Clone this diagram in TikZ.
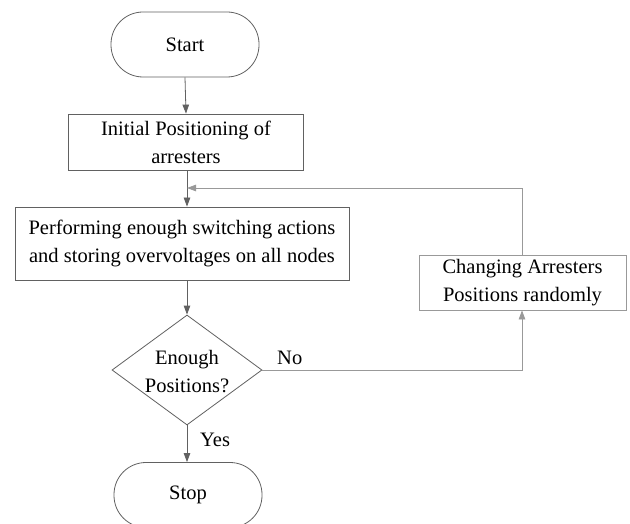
\documentclass[tikz,border=0pt]{standalone}
\usepackage{fontspec}
\setmainfont{Liberation Serif}
\usetikzlibrary{shapes.geometric,arrows.meta}
\begin{document}
\begin{tikzpicture}[x=1pt,y=-1pt,
  font=\fontsize{20.5}{28}\selectfont,
  line/.style={draw=black!62,line width=0.8pt},
  faint/.style={draw=black!40,line width=0.8pt},
  arr/.style={-{Triangle[length=9pt,width=6.5pt]}},
  terminal/.style={line,rectangle,rounded corners=32pt,minimum width=148pt,minimum height=65pt,inner sep=0pt},
  process/.style={line,rectangle,align=center,inner sep=0pt},
  decision/.style={line,diamond,minimum width=150pt,minimum height=110pt,inner sep=0pt},
  lbl/.style={inner sep=0pt,anchor=west}
]
\useasboundingbox (0,0) rectangle (630,524);
\fill[white] (0,0) rectangle (630,524);

% terminals, process boxes and decision
\node[terminal] (start) at (185,44.5) {Start};
\node[process,minimum width=235pt,minimum height=56pt] (init) at (186,142) {Initial Positioning of\\arresters};
\node[process,minimum width=334pt,minimum height=73pt] (sim) at (182,243.5) {Performing enough switching actions\\and storing overvoltages on all nodes};
\node[decision] (dec) at (187,370) {};
\node[align=center,inner sep=0pt] (dectext) at (187,372) {Enough\\Positions?};
\node[process,faint,minimum width=207pt,minimum height=55pt] (change) at (522.5,282.5) {Changing Arresters\\Positions randomly};
\node[terminal] (stop) at (188,495) {Stop};

% loop-back junction on the main line
\coordinate (join) at (187,188);
\coordinate (loopTop) at (522,188);

% main flow
\draw[line,arr] (start.south) -- (init.north);
\draw[line,arr] (init.south -| join) -- (sim.north -| join);
\draw[line,arr] (sim.south -| dec.north) -- (dec.north);
\draw[line,arr] (dec.south) -- (stop.north -| dec.south);

% retry loop
\draw[faint,arr] (dec.east) -- (dec.east -| loopTop) -- (change.south -| loopTop);
\draw[faint,arr] (change.north -| loopTop) -- (loopTop) -- (join);

% branch labels
\node[lbl] (yes) at (200,440) {Yes};
\node[lbl] (no) at (277,358) {No};
\end{tikzpicture}
\end{document}
